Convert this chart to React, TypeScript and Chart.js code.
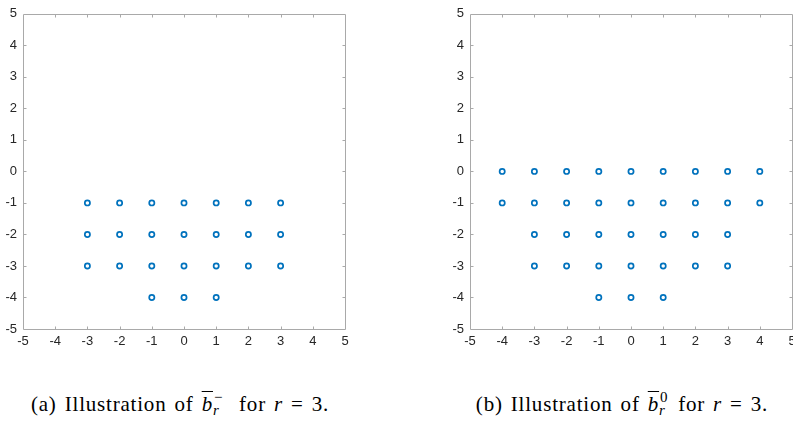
import React, { useEffect, useRef } from "react";
import { Chart, registerables } from "chart.js";

Chart.register(...registerables);

// Axis ticks (both axes, both panels)
const tickValues = [-5, -4, -3, -2, -1, 0, 1, 2, 3, 4, 5];

// Panel (a): points of b̄_r^- for r = 3
const panelAX = [-3, -2, -1, 0, 1, 2, 3, -3, -2, -1, 0, 1, 2, 3, -3, -2, -1, 0, 1, 2, 3, -1, 0, 1];
const panelAY = [-1, -1, -1, -1, -1, -1, -1, -2, -2, -2, -2, -2, -2, -2, -3, -3, -3, -3, -3, -3, -3, -4, -4, -4];

// Panel (b): points of b̄_r^0 for r = 3
const panelBX = [
  -4, -3, -2, -1, 0, 1, 2, 3, 4,
  -4, -3, -2, -1, 0, 1, 2, 3, 4,
  -3, -2, -1, 0, 1, 2, 3,
  -3, -2, -1, 0, 1, 2, 3,
  -1, 0, 1,
];
const panelBY = [
  0, 0, 0, 0, 0, 0, 0, 0, 0,
  -1, -1, -1, -1, -1, -1, -1, -1, -1,
  -2, -2, -2, -2, -2, -2, -2,
  -3, -3, -3, -3, -3, -3, -3,
  -4, -4, -4,
];

const AXIS_COLOR = "#a9a9a9";
const LABEL_COLOR = "#262626";
const MARK_COLOR = "#0072BD";

const boxPlugin = {
  id: "matlabBox",
  beforeDatasetsDraw(chart: any) {
    const { ctx, chartArea } = chart;
    const { left, right, top, bottom } = chartArea;
    const xs = chart.scales.x;
    const ys = chart.scales.y;
    ctx.save();
    ctx.strokeStyle = AXIS_COLOR;
    ctx.lineWidth = 1;
    ctx.beginPath();
    const L = Math.round(left) + 0.5;
    const R = Math.round(right) + 0.5;
    const T = Math.round(top) + 0.5;
    const B = Math.round(bottom) + 0.5;
    ctx.rect(L, T, R - L, B - T);
    const tl = 3;
    tickValues.forEach((v) => {
      const px = Math.round(xs.getPixelForValue(v)) + 0.5;
      if (px > L + 1 && px < R - 1) {
        ctx.moveTo(px, B);
        ctx.lineTo(px, B - tl);
        ctx.moveTo(px, T);
        ctx.lineTo(px, T + tl);
      }
      const py = Math.round(ys.getPixelForValue(v)) + 0.5;
      if (py > T + 1 && py < B - 1) {
        ctx.moveTo(L, py);
        ctx.lineTo(L + tl, py);
        ctx.moveTo(R, py);
        ctx.lineTo(R - tl, py);
      }
    });
    ctx.stroke();
    ctx.restore();
  },
};

function Panel({ xs, ys, left }: { xs: number[]; ys: number[]; left: number }) {
  const ref = useRef<HTMLCanvasElement | null>(null);
  useEffect(() => {
    if (!ref.current) return;
    const tickFont = { family: "'Liberation Sans', Arial, sans-serif", size: 13 };
    const chart = new Chart(ref.current, {
      type: "scatter",
      data: {
        datasets: [
          {
            data: xs.map((x, i) => ({ x, y: ys[i] })),
            pointRadius: 2.6,
            pointHoverRadius: 2.6,
            borderWidth: 1.7,
            borderColor: MARK_COLOR,
            backgroundColor: "#ffffff",
          },
        ],
      },
      options: {
        responsive: false,
        animation: false,
        events: [],
        layout: { padding: { top: 8, right: 15, left: 0, bottom: 0 } },
        plugins: { legend: { display: false }, tooltip: { enabled: false } },
        scales: {
          x: {
            type: "linear",
            min: -5,
            max: 5,
            afterBuildTicks: (s: any) => {
              s.ticks = tickValues.map((v) => ({ value: v }));
            },
            afterFit: (s: any) => {
              s.height = 31;
            },
            ticks: { font: tickFont, color: LABEL_COLOR, padding: 5, maxRotation: 0, autoSkip: false },
            grid: { display: false, drawTicks: false },
            border: { display: false },
          },
          y: {
            type: "linear",
            min: -5,
            max: 5,
            afterBuildTicks: (s: any) => {
              s.ticks = tickValues.map((v) => ({ value: v }));
            },
            afterFit: (s: any) => {
              s.width = 23;
            },
            ticks: { font: tickFont, color: LABEL_COLOR, padding: 6, autoSkip: false },
            grid: { display: false, drawTicks: false },
            border: { display: false },
          },
        },
      },
      plugins: [boxPlugin],
    });
    return () => chart.destroy();
  }, [xs, ys]);
  return (
    <canvas
      ref={ref}
      width={360}
      height={360}
      style={{ position: "absolute", left, top: 0, width: 360, height: 360, display: "block" }}
    />
  );
}

function Caption({ label, sup, center }: { label: string; sup: string; center: number }) {
  return (
    <div
      style={{
        position: "absolute",
        left: center - 200,
        width: 400,
        top: 393,
        textAlign: "center",
        fontFamily: "'Liberation Serif', 'Times New Roman', serif",
        fontSize: 21,
        lineHeight: "22px",
        letterSpacing: "0.8px",
        wordSpacing: "2px",
        color: "#000",
        whiteSpace: "nowrap",
      }}
    >
      ({label}) Illustration of{" "}
      <i style={{ textDecoration: "overline", textDecorationThickness: "1px" }}>b</i>
      <span style={{ display: "inline-block", position: "relative", width: sup === "−" ? 18 : 11, height: 10 }}>
        <span style={{ position: "absolute", left: 1, top: -15, fontSize: 15 }}>{sup}</span>
        <span style={{ position: "absolute", left: 0, top: -2, fontSize: 15, fontStyle: "italic" }}>r</span>
      </span>{" "}
      for <i>r</i> = 3.
    </div>
  );
}

export default function App() {
  return (
    <div
      style={{
        position: "absolute",
        left: 0,
        top: 0,
        width: 793,
        height: 424,
        overflow: "hidden",
        background: "#fff",
      }}
    >
      <Panel xs={panelAX} ys={panelAY} left={0} />
      <Panel xs={panelBX} ys={panelBY} left={447} />
      <Caption label="a" sup="−" center={180} />
      <Caption label="b" sup="0" center={622} />
    </div>
  );
}
